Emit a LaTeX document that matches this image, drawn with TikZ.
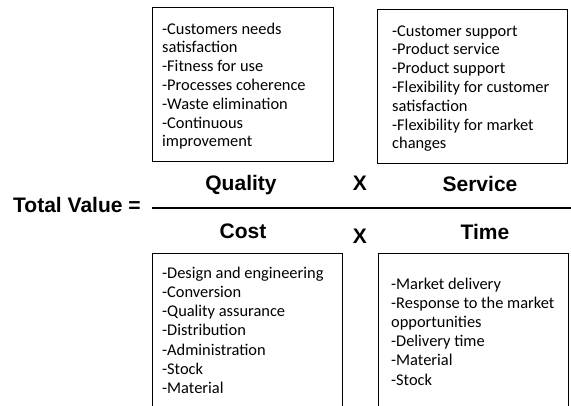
\documentclass[tikz,border=0pt]{standalone}
\usepackage{fontspec}
\setmainfont{Carlito}
\newfontfamily\hdrfont{Liberation Sans}
\newcommand\itemlines[2][18.8pt]{\vtop{\baselineskip=#1\halign{##\hfil\cr#2\crcr}}}
\begin{document}
\begin{tikzpicture}[x=1pt,y=-1pt,
  boxstyle/.style={draw, line width=1.4pt, anchor=north west, inner sep=0pt, minimum height=154pt},
  liststyle/.style={anchor=base west, inner sep=0pt, font=\fontsize{16.4}{18.8}\selectfont},
  hdstyle/.style={font=\hdrfont\bfseries\fontsize{21}{24}\selectfont, anchor=base, inner sep=0pt}]
\useasboundingbox (0,0) rectangle (571,405);
% boxes
\node[boxstyle, minimum width=181pt] (qbox) at (152,7) {};
\node[boxstyle, minimum width=190pt] (sbox) at (377,9) {};
\node[boxstyle, minimum width=190pt, minimum height=170pt] (cbox) at (152,253) {};
\node[boxstyle, minimum width=190pt, minimum height=170pt] (tbox) at (378,253) {};
% lists
\node[liststyle] (qlist) at (162,34) {\itemlines{-Customers needs\cr satisfaction\cr -Fitness for use\cr -Processes coherence\cr -Waste elimination\cr -Continuous\cr improvement}};
\node[liststyle] (slist) at (392,36) {\itemlines{-Customer support\cr -Product service\cr -Product support\cr -Flexibility for customer\cr satisfaction\cr -Flexibility for market\cr changes}};
\node[liststyle] (clist) at (162,278) {\itemlines[19.3pt]{-Design and engineering\cr -Conversion\cr -Quality assurance\cr -Distribution\cr -Administration\cr -Stock\cr -Material}};
\node[liststyle] (tlist) at (391,289) {\itemlines[19.2pt]{-Market delivery\cr -Response to the market\cr opportunities\cr -Delivery time\cr -Material\cr -Stock}};
% formula
\node[hdstyle] (quality) at (241,190) {Quality};
\node[hdstyle] (x1) at (360,190) {X};
\node[hdstyle] (service) at (480,191) {Service};
\node[hdstyle, anchor=base west] (tv) at (13,212) {Total Value =};
\node[hdstyle] (cost) at (243,238) {Cost};
\node[hdstyle] (x2) at (360,243) {X};
\node[hdstyle] (time) at (485,239) {Time};
\coordinate (lineA) at (152,208);
\coordinate (lineB) at (571,208);
\draw[line width=1.5pt] (lineA) -- (lineB);
\end{tikzpicture}
\end{document}
